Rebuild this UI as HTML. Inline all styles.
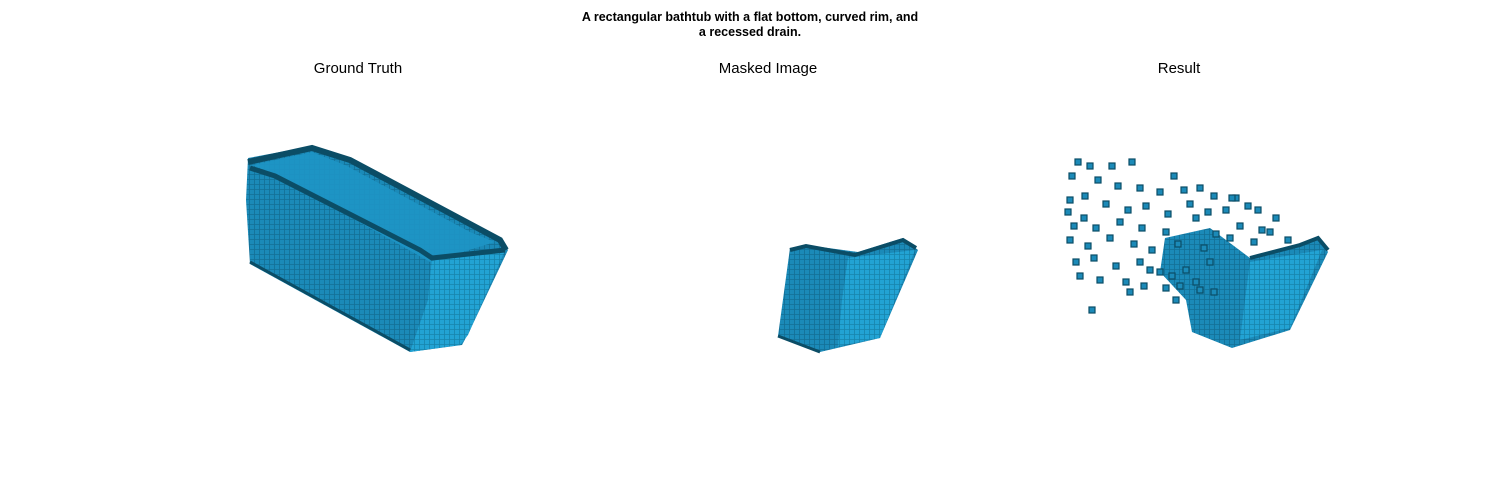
<!DOCTYPE html>
<html><head><meta charset="utf-8"><style>
body{margin:0;background:#fff;width:1500px;height:500px;overflow:hidden;font-family:"Liberation Sans","DejaVu Sans",sans-serif}
svg{position:absolute;left:0;top:0}
</style></head><body>
<svg width="1500" height="500">
<defs>
<pattern id="vox" width="5" height="5" patternUnits="userSpaceOnUse">
<rect width="5" height="5" fill="#1b8ab8"/><path d="M0 4.5H5M4.5 0V5" stroke="#136f95" stroke-width="0.8"/>
</pattern>
<pattern id="voxL" width="5" height="5" patternUnits="userSpaceOnUse">
<rect width="5" height="5" fill="#22a3d4"/><path d="M0 4.5H5M4.5 0V5" stroke="#1784ad" stroke-width="0.8"/>
</pattern>
</defs>
<text x="750" y="21" text-anchor="middle" font-size="12.5" font-weight="bold">A rectangular bathtub with a flat bottom, curved rim, and</text>
<text x="750" y="36" text-anchor="middle" font-size="12.5" font-weight="bold">a recessed drain.</text>
<text x="358" y="73" text-anchor="middle" font-size="15">Ground Truth</text>
<text x="768" y="73" text-anchor="middle" font-size="15">Masked Image</text>
<text x="1179" y="73" text-anchor="middle" font-size="15">Result</text>

<g>
<polygon points="248,158 312,146 350,158 500,238 508,250 470,330 462,345 410,352 250,264 246,200" fill="url(#vox)"/>
<polygon points="432,258 506,248 468,335 460,345 410,352 428,300" fill="url(#voxL)"/>
<polygon points="252,165 312,152 345,165 470,232 495,242 430,262 400,245 270,172" fill="#1e95c5" opacity="0.9"/>
<polyline points="248,162 312,148 350,160 500,240 506,250" fill="none" stroke="#0b4d66" stroke-width="6"/>
<polyline points="250,168 275,176 420,250 432,258 505,250" fill="none" stroke="#0b4d66" stroke-width="5"/>
<polyline points="250,262 410,350" fill="none" stroke="#0b4d66" stroke-width="3"/>
</g>

<g>
<polygon points="790,248 806,245 858,252 903,238 918,250 880,338 820,352 778,336" fill="url(#vox)"/>
<polygon points="848,258 915,250 880,338 838,346 842,300" fill="url(#voxL)"/>
<polyline points="790,250 806,246 855,255 903,240 916,248" fill="none" stroke="#0b4d66" stroke-width="4"/>
<polyline points="778,336 820,352" fill="none" stroke="#0b4d66" stroke-width="3"/>
</g>

<g id="result">
<polygon points="1165,238 1210,228 1250,258 1300,245 1318,236 1328,252 1290,330 1232,348 1192,332 1186,300 1160,272" fill="url(#vox)"/>
<polygon points="1250,262 1322,250 1290,328 1240,340 1245,300" fill="url(#voxL)"/>
<polyline points="1250,258 1300,245 1318,238 1328,250" fill="none" stroke="#0b4d66" stroke-width="4"/>
</g>
</svg>
<script>
const ptsX=[1078,1090,1112,1132,1174,1072,1098,1118,1140,1160,1184,1200,1214,1236,1070,1085,1106,1128,1146,1168,1190,1208,1226,1248,1276,1074,1096,1120,1142,1166,1196,1216,1240,1262,1288,1070,1088,1110,1134,1152,1178,1204,1230,1254,1270,1076,1094,1116,1140,1160,1186,1210,1080,1100,1126,1150,1172,1196,1130,1144,1166,1092,1180,1200,1176,1214,1232,1258,1068,1084];
const ptsY=[162,166,166,162,176,176,180,186,188,192,190,188,196,198,200,196,204,210,206,214,204,212,210,206,218,226,228,222,228,232,218,234,226,230,240,240,246,238,244,250,244,248,238,242,232,262,258,266,262,272,270,262,276,280,282,270,276,282,292,286,288,310,286,290,300,292,198,210,212,218];
const g=document.getElementById('result');
for(let i=0;i<ptsX.length;i++){
  const r=document.createElementNS('http://www.w3.org/2000/svg','rect');
  r.setAttribute('x',ptsX[i]-3);r.setAttribute('y',ptsY[i]-3);
  r.setAttribute('width',6);r.setAttribute('height',6);
  r.setAttribute('fill','#1b8ab8');r.setAttribute('stroke','#0b4d66');r.setAttribute('stroke-width','1.2');
  
  
  g.appendChild(r);
}
</script>
</body></html>
